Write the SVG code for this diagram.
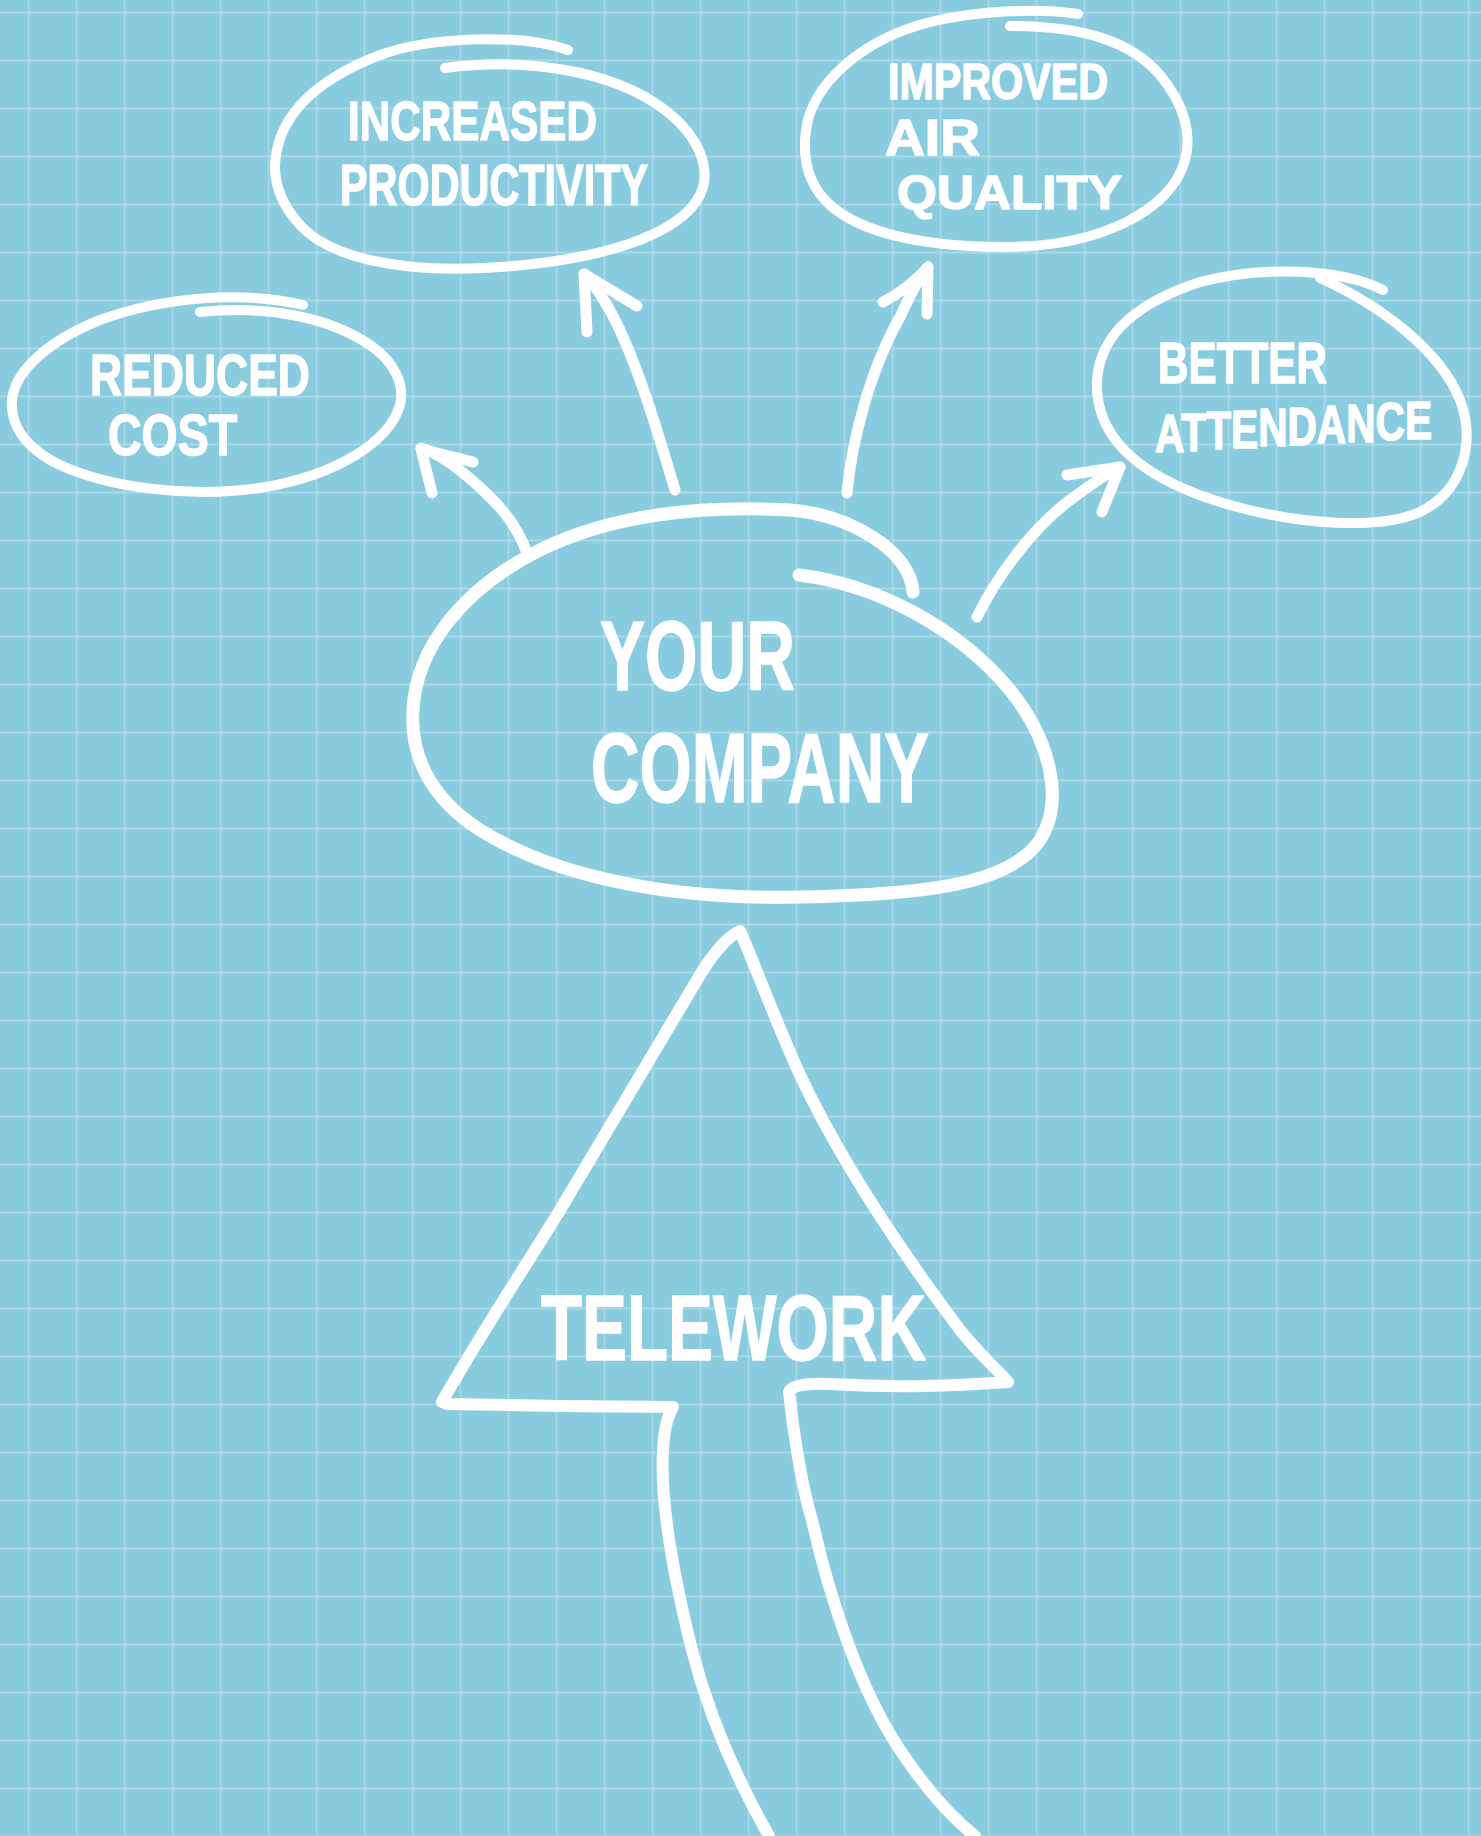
<svg xmlns="http://www.w3.org/2000/svg" width="1481" height="1836" viewBox="0 0 1481 1836">
<style>
.sk{fill:none;stroke:#ffffff;stroke-linecap:round;stroke-linejoin:round}
.n{stroke-width:10}
.c{stroke-width:11}
.lbl{font-family:"Liberation Sans",Arial,sans-serif;font-weight:bold;fill:#ffffff;stroke:#ffffff;stroke-width:1.5;stroke-linejoin:round}
</style>
<defs>
<pattern id="grid" patternUnits="userSpaceOnUse" x="4.5" y="-11.5" width="48" height="48">
<path d="M24,0 V48 M0,24 H48" stroke="#b6deea" stroke-width="1.3" fill="none"/>
</pattern>
</defs>
<rect width="1481" height="1836" fill="#89cbdf"/>
<rect width="1481" height="1836" fill="url(#grid)"/>

<g id="connectors">
<path class="sk c" d="M527,553 C515,520 495,500 467,476 C450,462 435,452 421,448"/>
<path class="sk c" d="M432,493 L421,449 L473,462"/>
<path class="sk c" d="M675,490 C660,440 640,370 615,320 C605,300 595,285 584,274"/>
<path class="sk c" d="M587,332 L584,274 L637,306"/>
<path class="sk c" d="M847,493 C852,440 870,370 900,317 C910,295 918,280 928,267"/>
<path class="sk c" d="M883,302 C902,292 915,282 928,267 L927,314"/>
<path class="sk c" d="M977,617 C995,580 1030,530 1070,500 C1090,485 1105,475 1120,467"/>
<path class="sk c" d="M1067,475 L1120,467 L1102,512"/>
</g>

<g id="node-increased-productivity">
<path class="sk n" d="M445,68 C520,58 610,68 665,110 C700,137 712,170 700,195 C680,235 600,262 483,268 C400,272 330,258 300,225 C280,203 272,180 276,155 C282,115 315,80 380,55 C430,37 520,33 568,50"/>
<text class="lbl" x="348" y="140" font-size="56" textLength="249" lengthAdjust="spacingAndGlyphs">INCREASED</text>
<text class="lbl" x="340" y="205" font-size="58" textLength="308" lengthAdjust="spacingAndGlyphs">PRODUCTIVITY</text>
</g>

<g id="node-improved-air-quality">
<path class="sk n" d="M1010,26 C1080,26 1130,40 1160,75 C1185,105 1192,135 1185,160 C1172,210 1100,248 1000,247 C920,246 860,232 830,205 C808,185 802,160 806,130 C812,85 860,40 930,22 C980,10 1040,8 1078,14"/>
<text class="lbl" x="888" y="99" font-size="50" textLength="220" lengthAdjust="spacingAndGlyphs">IMPROVED</text>
<text class="lbl" x="885" y="155" font-size="50" textLength="95" lengthAdjust="spacingAndGlyphs">AIR</text>
<text class="lbl" x="897" y="209" font-size="48" textLength="225" lengthAdjust="spacingAndGlyphs">QUALITY</text>
</g>

<g id="node-reduced-cost">
<path class="sk n" d="M200,312 C270,305 330,318 370,345 C395,362 405,385 400,405 C390,440 340,475 260,488 C190,498 110,488 60,465 C25,448 10,425 12,400 C15,370 50,340 100,320 C160,298 240,290 303,305"/>
<text class="lbl" x="90" y="395" font-size="58" textLength="220" lengthAdjust="spacingAndGlyphs">REDUCED</text>
<text class="lbl" x="108" y="455" font-size="58" textLength="129" lengthAdjust="spacingAndGlyphs">COST</text>
</g>

<g id="node-better-attendance">
<path class="sk n" d="M1320,278 C1380,305 1440,350 1460,400 C1475,440 1465,490 1420,512 C1380,530 1300,525 1230,505 C1150,482 1100,445 1097,390 C1095,340 1130,305 1200,282 C1260,266 1340,268 1383,290"/>
<text class="lbl" x="1158" y="383" font-size="58" textLength="169" lengthAdjust="spacingAndGlyphs">BETTER</text>
<text class="lbl" x="1155" y="452" dy="0 -1.5 -1.5 -1.5 -1.5 -1.5 -1.5 -1.5 -1.5 -1.5" font-size="54" textLength="277" lengthAdjust="spacingAndGlyphs">ATTENDANCE</text>
</g>

<g id="node-your-company">
<path class="sk" stroke-width="13" d="M799,575 C880,585 960,630 1010,690 C1050,740 1065,800 1040,840 C1010,885 920,895 800,897 C680,900 560,880 480,830 C430,798 410,755 413,710 C416,650 460,590 540,550 C610,515 700,505 790,510 C850,515 910,550 913,592"/>
<text class="lbl" x="600" y="690" font-size="98" textLength="195" lengthAdjust="spacingAndGlyphs">YOUR</text>
<text class="lbl" x="591" y="802" font-size="98" textLength="338" lengthAdjust="spacingAndGlyphs">COMPANY</text>
</g>

<g id="node-telework">
<path class="sk" stroke-width="12" d="M769,1836 C740,1785 710,1720 692,1650 C672,1570 660,1500 663,1450 C664,1430 668,1415 673,1407 L560,1406 L447,1404 L442,1402 C480,1335 520,1275 560,1210 L700,975 C715,950 730,935 740,931 C755,965 775,1020 800,1075 C840,1160 900,1250 960,1330 C980,1355 1000,1372 1008,1382 C950,1386 900,1388 830,1384 C800,1383 790,1387 789,1392 C792,1420 800,1480 812,1520 C830,1600 860,1690 900,1750 C930,1795 955,1820 975,1836"/>
<text class="lbl" x="541" y="1360" font-size="92" textLength="385" lengthAdjust="spacingAndGlyphs">TELEWORK</text>
</g>
</svg>
